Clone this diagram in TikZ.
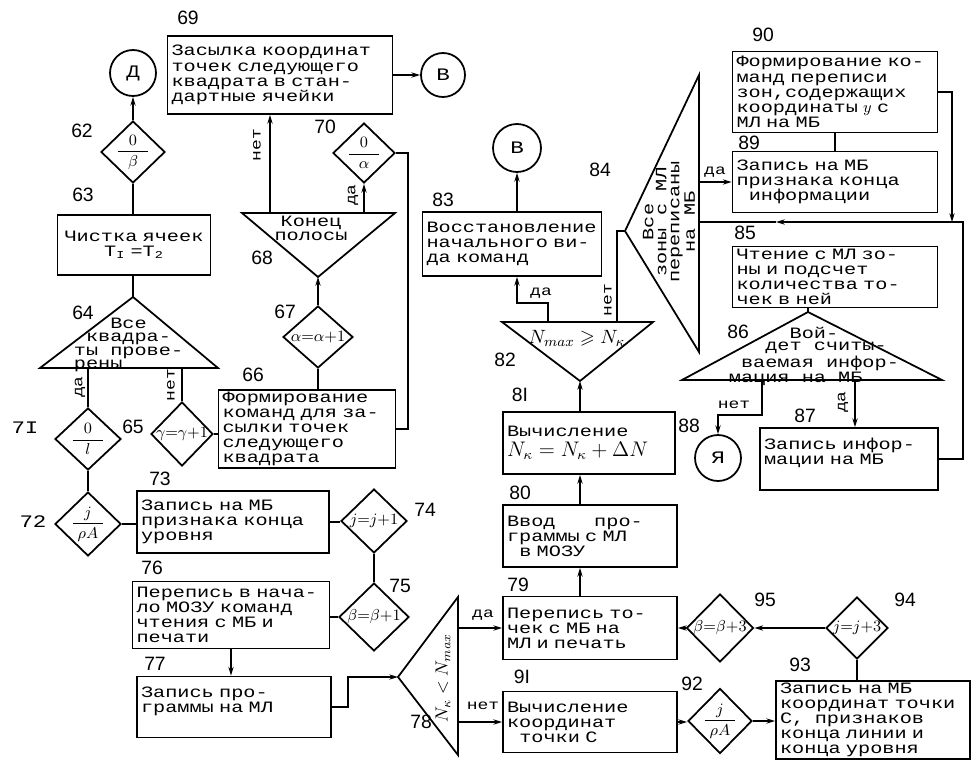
\documentclass[tikz,border=0pt]{standalone}
\usepackage{amsmath,amssymb}
\usepackage{fontspec}
\usetikzlibrary{arrows.meta,shapes.geometric}
\newfontfamily\tw[FakeStretch=1.28]{Liberation Mono}
\newfontfamily\nm{Liberation Sans}
\newcommand\frc[2]{$\displaystyle\frac{\makebox[1.9em]{$#1$}}{#2}$}

\begin{document}
\begin{tikzpicture}[x=0.02cm,y=-0.02cm,line width=1pt,>={Stealth[length=5pt,width=3pt]}]
\tikzset{bx/.style 2 args={draw,minimum width=#1*0.02cm,minimum height=#2*0.02cm,
    text width={(#1-8)*0.02cm},inner xsep=1.5pt,inner ysep=1pt,align=left,font=\fontsize{9}{8.6}\tw},
  dia/.style 2 args={draw,diamond,minimum width=#1*0.02cm,minimum height=#2*0.02cm,inner sep=0pt},
  conn/.style={draw,circle,minimum size=#1*0.02cm,inner sep=0pt,font=\fontsize{10}{10}\tw},
  mth/.style={inner sep=0pt,font=\fontsize{9}{9}\selectfont},
  num/.style={font=\fontsize{11}{11}\nm},
  yn/.style={inner sep=1pt,font=\fontsize{8}{8}\tw},
  tri/.style={inner sep=0pt,font=\fontsize{9}{7.3}\tw}}
\useasboundingbox (0,0) rectangle (973,761);
% ================= left column =================
\node[conn=46] (cD) at (133,73) {Д};
\node[dia={64}{62},label={[mth]center:{\frc{0}{\beta}}}] (d62) at (133,152) {};
\node[bx={153}{60},align=center] (b63) at (134,245) {Чистка ячеек\\T\textsubscript{I} =T\textsubscript{2}};
\coordinate (t64a) at (133,297); \coordinate (t64l) at (40,368); \coordinate (t64r) at (218,368);
\draw (t64a) -- (t64l) -- (t64r) -- cycle;
\node[tri,align=left,anchor=north west,font=\fontsize{9}{7.6}\tw] (x64) at (73,317) {\hphantom{ххх}Все\\\hphantom{х}квадра-\\ты прове-\\рены};
\node[dia={66}{62},label={[mth]center:{\frc{0}{l}}}] (d71) at (88,439) {};
\node[dia={62}{64},label={[mth]center:{$\gamma{=}\gamma{+}1$}}] (d65) at (182,434) {};
\node[dia={66}{64},label={[mth]center:{\frc{j}{\rho A}}}] (d72) at (88,524) {};
% ================= upper middle =================
\node[bx={225}{78}] (b69) at (280,75) {Засылка координат\\точек следующего\\квадрата в стан-\\дартные ячейки};
\node[conn=44] (cB1) at (443,75) {В};
\coordinate (t68l) at (242,213); \coordinate (t68r) at (395,213); \coordinate (t68a) at (318,277);
\draw (t68l) -- (t68r) -- (t68a) -- cycle;
\node[tri,align=center,font=\fontsize{9}{8}\tw] (x68) at (311,228) {Конец\\полосы};
\coordinate (p68) at (270,213);
\node[dia={62}{60},label={[mth]center:{\frc{0}{\alpha}}}] (d70) at (364,153) {};
\coordinate (p70) at (408,153);
\node[dia={70}{62},label={[mth]center:{$\alpha{=}\alpha{+}1$}}] (d67) at (318,337) {};
\node[bx={177}{75}] (b66) at (307,429) {Формирование\\команд для за-\\сылки точек\\следующего\\квадрата};
% ================= lower left =================
\node[bx={192}{62}] (b73) at (233,522) {Запись на МБ\\признака конца\\уровня};
\node[dia={66}{64},label={[mth]center:{$j{=}j{+}1$}}] (d74) at (374,521) {};
\node[dia={70}{68},label={[mth]center:{$\beta{=}\beta{+}1$}}] (d75) at (374,617) {};
\node[bx={197}{67}] (b76) at (231,615) {Перепись в нача-\\ло МОЗУ команд\\чтения с МБ и\\печати};
\node[bx={194}{61}] (b77) at (234,707) {Запись про-\\граммы на МЛ\\\mbox{}};
\coordinate (p77) at (348,677);
\coordinate (t78a) at (398,677); \coordinate (t78t) at (458,597); \coordinate (t78b) at (458,755);
\draw (t78a) -- (t78t) -- (t78b) -- cycle;
\node[rotate=90,inner sep=0pt,font=\fontsize{10}{10}\selectfont] (x78) at (443,678) {$N_\kappa<N_{max}$};
% ================= middle column =================
\node[bx={174}{63}] (b79) at (590,628) {Перепись то-\\чек с МБ на\\МЛ и печать};
\node[bx={174}{62}] (b80) at (590,536) {Ввод\hspace{22pt}про-\\граммы с МЛ\\\hspace*{7pt}в МОЗУ};
\node[bx={172}{62}] (b81) at (589,443) {Вычисление\\[3pt]{\fontsize{12}{12}\selectfont$N_\kappa=N_\kappa+\Delta N$}};
\node[bx={174}{61}] (b91) at (590,722) {Вычисление\\координат\\\hspace*{7pt}точки С};
\coordinate (t82l) at (502,322); \coordinate (t82r) at (653,322); \coordinate (t82a) at (580,381);
\draw (t82l) -- (t82r) -- (t82a) -- cycle;
\node[inner sep=0pt,font=\fontsize{11}{11}\selectfont] (x82) at (577,338) {$N_{max}\geqslant N_\kappa$};
\coordinate (p82y) at (548,322); \coordinate (p82n) at (617,322);
\node[bx={179}{64}] (b83) at (512,244) {Восстановление\\начального ви-\\да команд};
\node[conn=48] (cB2) at (517,148) {В};
% ================= right column =================
\coordinate (t84a) at (625,231); \coordinate (t84t) at (699,75); \coordinate (t84b) at (699,352);
\draw (t84a) -- (t84t) -- (t84b) -- cycle;
\node[tri,align=center,rotate=90,font=\fontsize{9}{7.4}\tw] (x84) at (669,222) {Все\\зоны с МЛ\\переписаны\\на МБ};
\node[bx={205}{81}] (b90) at (835,92) {Формирование ко-\\манд переписи\\зон,содержащих\\координаты $y$ с\\МЛ на МБ};
\node[bx={205}{61}] (b89) at (835,182) {Запись на МБ\\признака конца\\\hspace*{7pt}информации};
\node[bx={205}{61}] (b85) at (835,277) {Чтение с МЛ зо-\\ны и подсчет\\количества то-\\чек в ней};
\coordinate (p84m) at (776,222); \coordinate (p84j) at (963,222); \coordinate (p84k) at (952,222);
\coordinate (t86a) at (808,312); \coordinate (t86l) at (682,380); \coordinate (t86r) at (942,380);
\draw (t86a) -- (t86l) -- (t86r) -- cycle;
\node[tri,align=left,anchor=north west] (x86) at (728,326) {\hphantom{ххххх}Вой-\\\hphantom{ххх}дет считы-\\\hphantom{х}ваемая инфор-\\мация на МБ};
\coordinate (p86n) at (762,380); \coordinate (p86y) at (855,380);
\node[conn=46] (cYa) at (718,458) {Я};
\node[bx={178}{62}] (b87) at (849,459) {Запись инфор-\\мации на МБ\\\mbox{}};
% ================= lower right =================
\node[dia={67}{68},label={[mth]center:{$\beta{=}\beta{+}3$}}] (d95) at (720,628) {};
\node[dia={62}{62},label={[mth]center:{$j{=}j{+}3$}}] (d94) at (857,628) {};
\node[dia={64}{65},label={[mth]center:{\frc{j}{\rho A}}}] (d92) at (720,721) {};
\node[bx={194}{76}] (b93) at (873,720) {Запись на МБ\\координат точки\\С,\hspace{6pt}признаков\\конца линии и\\конца уровня};
% ---------- block numbers ----------
\node[num] (l69) at (188,18) {69};
\node[num] (l62) at (82,131) {62};
\node[num] (l63) at (83,195) {63};
\node[num] (l64) at (83,313) {64};
\node[font=\fontsize{10}{10}\tw] (l71) at (25,428) {7I};
\node[num] (l65) at (133,427) {65};
\node[num] (l66) at (253,375) {66};
\node[num] (l67) at (285,312) {67};
\node[num] (l68) at (262,258) {68};
\node[num] (l70) at (325,127) {70};
\node[font=\fontsize{10}{10}\tw] (l72) at (33,522) {72};
\node[num] (l73) at (160,479) {73};
\node[num] (l74) at (425,510) {74};
\node[num] (l75) at (400,586) {75};
\node[num] (l76) at (152,568) {76};
\node[num] (l77) at (155,664) {77};
\node[num] (l78) at (421,722) {78};
\node[num] (l79) at (518,585) {79};
\node[num] (l80) at (520,493) {80};
\node[num] (l81) at (520,395) {8I};
\node[num] (l82) at (505,360) {82};
\node[num] (l83) at (443,200) {83};
\node[num] (l84) at (600,170) {84};
\node[num] (l85) at (745,233) {85};
\node[num] (l86) at (738,332) {86};
\node[num] (l87) at (805,416) {87};
\node[num] (l88) at (689,426) {88};
\node[num] (l89) at (749,143) {89};
\node[num] (l90) at (763,35) {90};
\node[num] (l91) at (522,677) {9I};
\node[num] (l92) at (692,684) {92};
\node[num] (l93) at (800,665) {93};
\node[num] (l94) at (905,600) {94};
\node[num] (l95) at (765,600) {95};
% ---------- yes / no ----------
\node[yn,rotate=90] (ya64) at (80,387) {да};
\node[yn,rotate=90] (ne64) at (171,385) {нет};
\node[yn,rotate=90] (ne68) at (257,145) {нет};
\node[yn,rotate=90] (ya70) at (353,195) {да};
\node[yn] (ya82) at (541,293) {да};
\node[yn,rotate=90] (ne82) at (608,300) {нет};
\node[yn] (ya84) at (715,172) {да};
\node[yn] (ne86) at (734,405) {нет};
\node[yn,rotate=90] (ya86) at (843,402) {да};
\node[yn] (ya78) at (483,615) {да};
\node[yn] (ne78) at (483,706) {нет};
% ---------- connectors ----------
\draw[->] (b69.east) -- (cB1.west);
\draw[->] (d62.north) -- (cD.south);
\draw (d62.south) -- (d62.south |- b63.north);
\draw (t64a |- b63.south) -- (t64a);
\draw (d71.north |- t64l) -- (d71.north);
\draw (d65.north |- t64l) -- (d65.north);
\draw (d71.south) -- (d72.north);
\draw (d72.east) -- (d72.east -| b73.west);
\draw (d65.east) -- (d65.east -| b66.west);
\draw (b66.east) -| (p70) -- (d70.east);
\draw[->] (d70.south |- t68l) -- (d70.south);
\draw[->] (p68) -- (p68 |- b69.south);
\draw[->] (d67.north) -- (t68a);
\draw (d67.south) -- (d67.south |- b66.north);
\draw (b73.east) -- (b73.east -| d74.west);
\draw (d74.south) -- (d75.north);
\draw (d75.west) -- (d75.west -| b76.east);
\draw[->] (b76.south) -- (b76.south |- b77.north);
\draw[->] (b77.east) -| (p77) -- (t78a);
\draw[->] (t78t |- b79.west) -- (b79.west);
\draw[->] (t78t |- b91.west) -- (b91.west);
\draw[->] (t82a |- b79.north) -- (t82a |- b80.south);
\draw[->] (t82a |- b80.north) -- (t82a |- b81.south);
\draw[->] (t82a |- b81.north) -- (t82a);
\draw[->] (p82y) -- ++(0,-19) -| (cB2 |- b83.south);
\draw[->] (cB2 |- b83.north) -- (cB2.south);
\draw (p82n) |- (t84a);
\draw[->] (t84t |- b89.west) -- (b89.west);
\draw (b90.south) -- (b90.south |- b89.north);
\draw[->] (b90.east) -| (p84k);
\draw[->] (b87.east) -| (p84j) -- (p84m);
\draw (p84m) -- (t84t |- p84m);
\draw (b85.south -| t86a) -- (t86a);
\draw[->] (p86n) -- ++(0,35) -| (cYa.north);
\draw[->] (p86y) -- (p86y |- b87.north);
\draw[->] (d95.west) -- (d95.west -| b79.east);
\draw[->] (d94.west) -- (d95.east);
\draw (d94.south) -- (d94.south |- b93.north);
\draw[->] (b91.east) -- (b91.east -| d92.west);
\draw[->] (d92.east) -- (d92.east -| b93.west);
\end{tikzpicture}
\end{document}
